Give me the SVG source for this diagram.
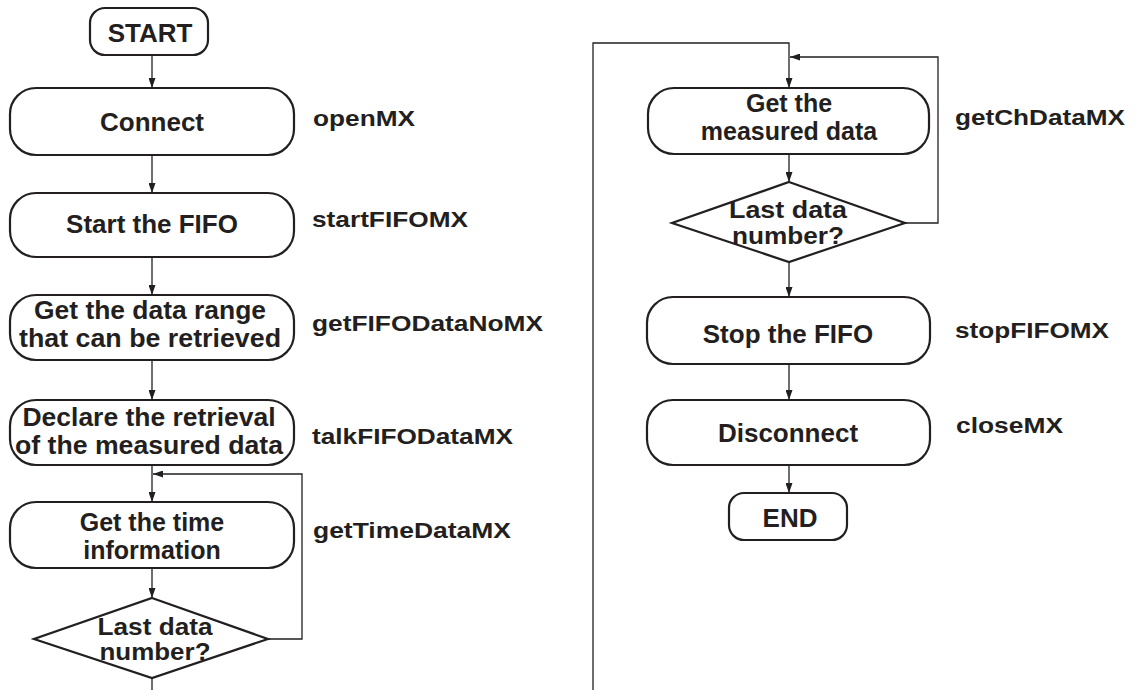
<svg xmlns="http://www.w3.org/2000/svg" width="1140" height="690" viewBox="0 0 1140 690">
<defs>
<style>
.box{fill:#fff;stroke:#231f20;stroke-width:2.2}
.ln{fill:none;stroke:#231f20;stroke-width:1.3}
.t{font-family:"Liberation Sans",Arial,sans-serif;font-weight:bold;font-size:26px;fill:#231f20;text-anchor:middle}
.t2{font-family:"Liberation Sans",Arial,sans-serif;font-weight:bold;font-size:25px;fill:#231f20;text-anchor:middle}
.td{font-family:"Liberation Sans",Arial,sans-serif;font-weight:bold;font-size:23px;fill:#231f20;text-anchor:middle}
.lb{font-family:"Liberation Sans",Arial,sans-serif;font-weight:bold;font-size:22.5px;fill:#231f20}
</style>
<marker id="ah" markerWidth="10" markerHeight="7" refX="10" refY="3.5" orient="auto" markerUnits="userSpaceOnUse">
<path d="M0,0 L10,3.5 L0,7 z" fill="#231f20"/>
</marker>
</defs>
<rect width="1140" height="690" fill="#fff"/>
<g id="connectors">
<line class="ln" x1="152" y1="55" x2="152" y2="88" marker-end="url(#ah)"/>
<line class="ln" x1="152" y1="155" x2="152" y2="193" marker-end="url(#ah)"/>
<line class="ln" x1="152" y1="257" x2="152" y2="295" marker-end="url(#ah)"/>
<line class="ln" x1="152" y1="360" x2="152" y2="400" marker-end="url(#ah)"/>
<line class="ln" x1="152" y1="465" x2="152" y2="502" marker-end="url(#ah)"/>
<line class="ln" x1="152" y1="568" x2="152" y2="598" marker-end="url(#ah)"/>
<line class="ln" x1="152" y1="678" x2="152" y2="690"/>
<path class="ln" d="M268,639 H302 V474 H153" marker-end="url(#ah)"/>
<path class="ln" d="M593,690 V43 H789 V88" marker-end="url(#ah)"/>
<line class="ln" x1="789" y1="154" x2="789" y2="182" marker-end="url(#ah)"/>
<path class="ln" d="M905,223 H938 V57 H790" marker-end="url(#ah)"/>
<line class="ln" x1="789" y1="262" x2="789" y2="297" marker-end="url(#ah)"/>
<line class="ln" x1="789" y1="364" x2="789" y2="400" marker-end="url(#ah)"/>
<line class="ln" x1="789" y1="465" x2="789" y2="493" marker-end="url(#ah)"/>
</g>
<g id="start">
<rect class="box" x="90" y="8" width="118" height="47" rx="15"/>
<text class="t" x="150" y="42">START</text>
</g>
<g id="connect">
<rect class="box" x="10" y="88" width="284" height="67" rx="26"/>
<text class="t" x="152" y="131">Connect</text>
</g>
<g id="startfifo">
<rect class="box" x="10" y="193" width="284" height="64" rx="26"/>
<text class="t" x="152" y="233">Start the FIFO</text>
</g>
<g id="datarange">
<rect class="box" x="10" y="295" width="284" height="65" rx="26"/>
<text class="t2" x="150" y="319" textLength="232" lengthAdjust="spacingAndGlyphs">Get the data range</text>
<text class="t2" x="150" y="347" textLength="262" lengthAdjust="spacingAndGlyphs">that can be retrieved</text>
</g>
<g id="declare">
<rect class="box" x="10" y="400" width="284" height="65" rx="26"/>
<text class="t2" x="149" y="426" textLength="253" lengthAdjust="spacingAndGlyphs">Declare the retrieval</text>
<text class="t2" x="149" y="454" textLength="268" lengthAdjust="spacingAndGlyphs">of the measured data</text>
</g>
<g id="timeinfo">
<rect class="box" x="10" y="502" width="284" height="66" rx="26"/>
<text class="t2" x="152" y="531">Get the time</text>
<text class="t2" x="152" y="559">information</text>
</g>
<g id="lastdata1">
<polygon class="box" points="152,598 268,639 152,678 34,639"/>
<text class="td" x="155" y="635" textLength="115" lengthAdjust="spacingAndGlyphs">Last data</text>
<text class="td" x="155" y="660" textLength="111" lengthAdjust="spacingAndGlyphs">number?</text>
</g>
<g id="measured">
<rect class="box" x="648" y="88" width="281" height="66" rx="26"/>
<text class="t2" x="789" y="112">Get the</text>
<text class="t2" x="789" y="140">measured data</text>
</g>
<g id="lastdata2">
<polygon class="box" points="789,182 905,223 789,262 672,223"/>
<text class="td" x="788" y="218" textLength="118" lengthAdjust="spacingAndGlyphs">Last data</text>
<text class="td" x="788" y="244" textLength="112" lengthAdjust="spacingAndGlyphs">number?</text>
</g>
<g id="stopfifo">
<rect class="box" x="647" y="297" width="283" height="67" rx="26"/>
<text class="t" x="788" y="343">Stop the FIFO</text>
</g>
<g id="disconnect">
<rect class="box" x="647" y="400" width="283" height="65" rx="26"/>
<text class="t" x="788" y="442">Disconnect</text>
</g>
<g id="end">
<rect class="box" x="729" y="493" width="118" height="47" rx="15"/>
<text class="t" x="790" y="527">END</text>
</g>
<g id="labels">
<text class="lb" x="313" y="126" textLength="102" lengthAdjust="spacingAndGlyphs">openMX</text>
<text class="lb" x="312" y="227" textLength="156" lengthAdjust="spacingAndGlyphs">startFIFOMX</text>
<text class="lb" x="312" y="331" textLength="231" lengthAdjust="spacingAndGlyphs">getFIFODataNoMX</text>
<text class="lb" x="312" y="444" textLength="201" lengthAdjust="spacingAndGlyphs">talkFIFODataMX</text>
<text class="lb" x="313" y="538" textLength="198" lengthAdjust="spacingAndGlyphs">getTimeDataMX</text>
<text class="lb" x="955" y="125" textLength="170" lengthAdjust="spacingAndGlyphs">getChDataMX</text>
<text class="lb" x="955" y="338" textLength="154" lengthAdjust="spacingAndGlyphs">stopFIFOMX</text>
<text class="lb" x="956" y="433" textLength="107" lengthAdjust="spacingAndGlyphs">closeMX</text>
</g>
</svg>
